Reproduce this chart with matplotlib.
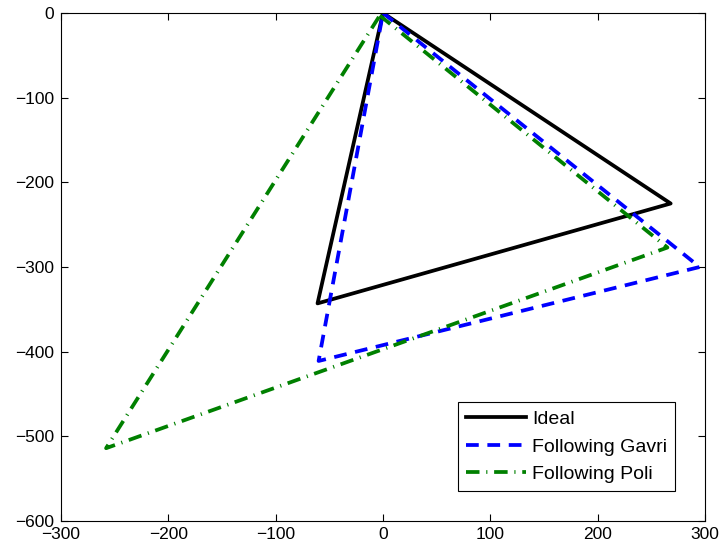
import matplotlib
matplotlib.use("Agg")
from matplotlib import pyplot as plt

plt.rcParams['font.family'] = ['Liberation Sans', 'DejaVu Sans']

# closed triangles (x, y), first vertex repeated at the end
ideal_x = [0, 268, -61, 0]
ideal_y = [0, -225, -343, 0]

gavri_x = [0, 295, -60, 0]
gavri_y = [0, -300, -411, 0]

poli_x = [-3, 265, -258, -3]
poli_y = [-3, -277, -514, -3]

labels = ['Ideal', 'Following Gavri', 'Following Poli']

fig = plt.figure(figsize=(7.25, 5.55), dpi=100)
ax = fig.add_axes([61 / 725, 34 / 555, 644 / 725, 508 / 555])

ax.plot(ideal_x, ideal_y, '-', color='black', lw=2.7, label=labels[0])
ax.plot(gavri_x, gavri_y, color='#0000ff', lw=2.7, dashes=(3.4, 2.3), label=labels[1])
ax.plot(poli_x, poli_y, color='#008000', lw=2.7, dashes=(3.6, 1.8, 0.3, 1.8),
        label=labels[2])

ax.set_xlim(-300, 300)
ax.set_ylim(-600, 0)
ax.set_xticks(range(-300, 301, 100))
ax.set_yticks(range(-600, 1, 100))
ax.tick_params(direction='in', top=True, right=True, labelsize=12.5, length=5,
               width=0.8)
ax.tick_params(axis='x', pad=4)
ax.tick_params(axis='y', pad=5)
for s in ax.spines.values():
    s.set_linewidth(0.8)

leg = ax.legend(loc='lower right', bbox_to_anchor=(675 / 725, 64 / 555),
                bbox_transform=fig.transFigure, fontsize=14, handlelength=3.1,
                fancybox=False, framealpha=1, edgecolor='black',
                borderpad=0.4, labelspacing=0.52, handletextpad=0.3,
                borderaxespad=0)
leg.get_frame().set_linewidth(0.8)

fig.savefig('out.png', dpi=100)
